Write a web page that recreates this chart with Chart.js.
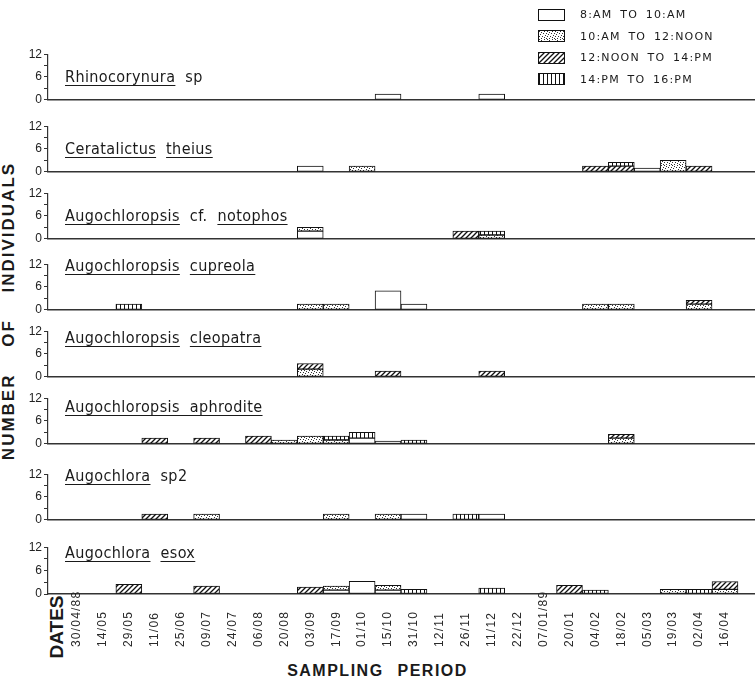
<!DOCTYPE html>
<html>
<head>
<meta charset="utf-8">
<script src="https://cdn.jsdelivr.net/npm/chart.js@4.4.1/dist/chart.umd.min.js"></script>
<style>
  body { margin: 0; background: #fff; }
  #page { position: relative; width: 755px; height: 684px; overflow: hidden; color: #1a1a1a; }
  #page canvas.panel { position: absolute; left: 0; }
  .species { position: absolute; left: 65px; font-family: "Liberation Sans Narrow", "DejaVu Sans Condensed", sans-serif; font-size: 16px; line-height: 16px; letter-spacing: 0.4px; word-spacing: 5px; white-space: pre; }
  .species u { text-decoration-thickness: 1.4px; text-underline-offset: 3px; }
  #legend { position: absolute; left: 538px; top: 4px; }
  #legend .row { height: 21.5px; display: flex; align-items: center; }
  #legend canvas { border: 1.3px solid #111; margin-right: 15px; }
  #legend span { font-family: "DejaVu Sans", sans-serif; font-size: 11px; letter-spacing: 1.2px; word-spacing: 3px; }
  .rot { position: absolute; font-family: "Liberation Sans", Arial, sans-serif; font-weight: bold; white-space: pre; transform: translate(-50%, -50%) rotate(-90deg); }
  #xtitle { position: absolute; left: 0; width: 755px; top: 662px; text-align: center; font-family: "Liberation Sans", Arial, sans-serif; font-weight: bold; font-size: 16px; letter-spacing: 1.5px; word-spacing: 8px; }
</style>
</head>
<body>
<div id="page">
  <div id="legend"></div>
  <div class="rot" style="left:9px; top:311px; font-size:17px; letter-spacing:2px; word-spacing:20px;">NUMBER OF INDIVIDUALS</div>
  <div class="rot" style="left:57px; top:627px; font-size:19px;">DATES</div>
  <div id="xtitle">SAMPLING PERIOD</div>
</div>
<script>
// sampling dates (x axis)
const dates = ['30/04/88', '14/05', '29/05', '11/06', '25/06', '09/07', '24/07', '06/08', '20/08',
  '03/09', '17/09', '01/10', '15/10', '31/10', '12/11', '26/11', '11/12', '22/12', '07/01/89',
  '20/01', '04/02', '18/02', '05/03', '19/03', '02/04', '16/04'];
const periods = ['8:AM TO 10:AM', '10:AM TO 12:NOON', '12:NOON TO 14:PM', '14:PM TO 16:PM'];
const yTicks = [0, 6, 12];

// individuals per date: [date, 8-10h, 10-12h, 12-14h, 14-16h]
const rhinocorynura = [['15/10', 1.5, 0, 0, 0], ['11/12', 1.5, 0, 0, 0]];
const ceratalictus = [['03/09', 1.5, 0, 0, 0], ['01/10', 0, 1.5, 0, 0], ['04/02', 0, 0, 1.5, 0],
  ['18/02', 0, 0, 1.5, 1], ['05/03', 1, 0, 0, 0], ['19/03', 0, 3, 0, 0], ['02/04', 0, 0, 1.5, 0]];
const notophos = [['03/09', 2, 1, 0, 0], ['26/11', 0, 0, 2, 0], ['11/12', 0, 1, 0, 1]];
const cupreola = [['29/05', 0, 0, 0, 1.5], ['03/09', 0, 1.5, 0, 0], ['17/09', 0, 1.5, 0, 0],
  ['15/10', 5, 0, 0, 0], ['31/10', 1.5, 0, 0, 0], ['04/02', 0, 1.5, 0, 0], ['18/02', 0, 1.5, 0, 0],
  ['02/04', 0, 1.5, 1, 0]];
const cleopatra = [['03/09', 0, 2, 1.5, 0], ['15/10', 0, 0, 1.5, 0], ['11/12', 0, 0, 1.5, 0]];
const aphrodite = [['11/06', 0, 0, 1.5, 0], ['09/07', 0, 0, 1.5, 0], ['06/08', 0, 0, 2, 0],
  ['20/08', 0, 1, 0, 0], ['03/09', 0, 2, 0, 0], ['17/09', 0, 1, 0, 1], ['01/10', 1.5, 0, 0, 1.5],
  ['15/10', 0.7, 0, 0, 0], ['31/10', 0, 0, 0, 1], ['18/02', 0, 1.5, 1, 0]];
const sp2 = [['11/06', 0, 0, 1.5, 0], ['09/07', 0, 1.5, 0, 0], ['17/09', 0, 1.5, 0, 0],
  ['15/10', 0, 1.5, 0, 0], ['31/10', 1.5, 0, 0, 0], ['26/11', 0, 0, 0, 1.5], ['11/12', 1.5, 0, 0, 0]];
const esox = [['29/05', 0, 0, 2.5, 0], ['09/07', 0, 0, 2, 0], ['03/09', 0, 0, 1.75, 0],
  ['17/09', 1, 1, 0, 0], ['01/10', 3.25, 0, 0, 0], ['15/10', 1, 1.2, 0, 0], ['31/10', 0, 0, 0, 1.2],
  ['11/12', 0, 0, 0, 1.5], ['20/01', 0, 0, 2.25, 0], ['04/02', 0, 0, 0, 1], ['19/03', 0, 1.2, 0, 0],
  ['02/04', 0, 0, 0, 1.2], ['16/04', 0, 1.2, 2, 0]];

const panels = [
  { title: '<u>Rhinocorynura</u> sp', rows: rhinocorynura },
  { title: '<u>Ceratalictus</u> <u>theius</u>', rows: ceratalictus },
  { title: '<u>Augochloropsis</u> cf. <u>notophos</u>', rows: notophos },
  { title: '<u>Augochloropsis</u> <u>cupreola</u>', rows: cupreola },
  { title: '<u>Augochloropsis</u> <u>cleopatra</u>', rows: cleopatra },
  { title: '<u>Augochloropsis aphrodite</u>', rows: aphrodite },
  { title: '<u>Augochlora</u> sp2', rows: sp2 },
  { title: '<u>Augochlora</u> <u>esox</u>', rows: esox }
];

// layout
const baseY = [101, 173, 240, 311, 378, 445, 521, 594];
const titleY = [69, 141, 208, 258, 330, 399, 468, 545];
const plotH = 48, padTop = 8;
const areaLeft = 48, areaRight = 755, firstX = 77, lastX = 725;
const step = (lastX - firstX) / (dates.length - 1);
const xMin = -(firstX - areaLeft) / step;
const xMax = dates.length - 1 + (areaRight - lastX) / step;

function makePattern(kind) {
  const c = document.createElement('canvas');
  const g = c.getContext('2d');
  if (kind === 'white') { c.width = c.height = 4; g.fillStyle = '#fff'; g.fillRect(0, 0, 4, 4); }
  if (kind === 'stipple') {
    // scattered speckle tile
    c.width = c.height = 8;
    g.fillStyle = '#fff'; g.fillRect(0, 0, 8, 8);
    g.fillStyle = '#333';
    [[0, 0], [5, 0], [2, 1], [7, 2], [4, 2], [1, 3], [6, 4], [3, 5], [0, 5], [5, 6], [2, 7], [7, 7]]
      .forEach(p => g.fillRect(p[0], p[1], 1, 1));
  }
  if (kind === 'hatch') {
    c.width = c.height = 5;
    g.fillStyle = '#fff'; g.fillRect(0, 0, 5, 5);
    g.strokeStyle = '#111'; g.lineWidth = 1.3;
    g.beginPath();
    g.moveTo(-1, 6); g.lineTo(6, -1);
    g.moveTo(-1, 1); g.lineTo(1, -1);
    g.moveTo(4, 6); g.lineTo(6, 4);
    g.stroke();
  }
  if (kind === 'vertical') {
    c.width = c.height = 4;
    g.fillStyle = '#fff'; g.fillRect(0, 0, 4, 4);
    g.fillStyle = '#111'; g.fillRect(0, 0, 1, 4);
  }
  return g.createPattern(c, 'repeat');
}
const fills = ['white', 'stipple', 'hatch', 'vertical'].map(makePattern);

Chart.defaults.font.family = '"Liberation Sans Narrow", "Liberation Sans", sans-serif';
Chart.defaults.color = '#222';

const dateLabels = {
  id: 'dateLabels',
  afterDraw(chart) {
    const ctx = chart.ctx, xs = chart.scales.x;
    const y0 = chart.chartArea.bottom + 53;
    ctx.save();
    ctx.font = '12px "Liberation Sans", sans-serif';
    ctx.letterSpacing = '1.2px';
    ctx.fillStyle = '#2a2a2a';
    ctx.textAlign = 'left';
    ctx.textBaseline = 'middle';
    dates.forEach((d, i) => {
      ctx.save();
      ctx.translate(xs.getPixelForValue(i), y0);
      ctx.rotate(-Math.PI / 2);
      ctx.fillText(d, 0, 0);
      ctx.restore();
    });
    ctx.restore();
  }
};

const page = document.getElementById('page');

panels.forEach((p, n) => {
  const last = n === panels.length - 1;
  const bottomH = last ? 62 : 8;
  const cv = document.createElement('canvas');
  cv.className = 'panel';
  cv.width = 755;
  cv.height = padTop + plotH + bottomH;
  cv.style.top = (baseY[n] - plotH - padTop) + 'px';
  page.appendChild(cv);

  const t = document.createElement('div');
  t.className = 'species';
  t.style.top = titleY[n] + 'px';
  t.innerHTML = p.title;
  page.appendChild(t);

  const datasets = periods.map((label, k) => ({
    label: label,
    data: dates.map((d, i) => {
      const r = p.rows.find(row => row[0] === d);
      return { x: i, y: r && r[k + 1] ? r[k + 1] : null };
    }),
    backgroundColor: fills[k],
    borderColor: '#111',
    borderWidth: 1,
    borderSkipped: false,
    barPercentage: 1,
    categoryPercentage: 1
  }));

  new Chart(cv, {
    type: 'bar',
    data: { datasets: datasets },
    plugins: last ? [dateLabels] : [],
    options: {
      responsive: false,
      animation: false,
      devicePixelRatio: 1,
      layout: { padding: { top: padTop, left: 0, right: 0, bottom: 0 } },
      plugins: { legend: { display: false }, tooltip: { enabled: false } },
      scales: {
        x: {
          type: 'linear', stacked: true, offset: false, min: xMin, max: xMax,
          grid: { display: false, offset: false },
          ticks: { display: false },
          border: { display: true, color: '#333', width: 1.5 },
          afterFit: s => { s.height = bottomH; }
        },
        y: {
          stacked: true, min: 0, max: 12,
          ticks: {
            stepSize: 3, autoSkip: false, padding: 2,
            font: { size: 12 },
            callback: v => yTicks.includes(v) ? String(v) : ''
          },
          grid: { drawOnChartArea: false, drawTicks: true, tickLength: 4, color: '#333' },
          border: { display: true, color: '#333', width: 1.2 },
          afterFit: s => { s.width = areaLeft; }
        }
      }
    }
  });
});

// legend
const legend = document.getElementById('legend');
periods.forEach((label, k) => {
  const row = document.createElement('div');
  row.className = 'row';
  const box = document.createElement('canvas');
  box.width = 25; box.height = 10;
  const g = box.getContext('2d');
  g.fillStyle = fills[k];
  g.fillRect(0, 0, 25, 10);
  const s = document.createElement('span');
  s.textContent = label;
  row.appendChild(box);
  row.appendChild(s);
  legend.appendChild(row);
});
</script>
</body>
</html>
